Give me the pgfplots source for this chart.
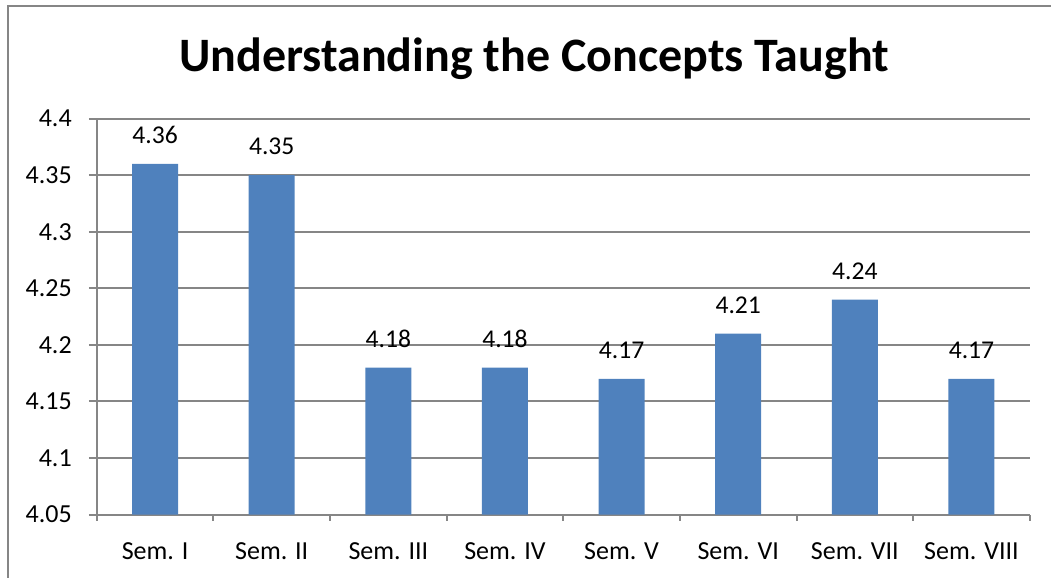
\documentclass[border=0pt]{standalone}
\usepackage{pgfplots}
\pgfplotsset{compat=1.18}
\usepackage{fontspec}
\setmainfont{Carlito}
\definecolor{barblue}{HTML}{4F81BD}
\definecolor{axgray}{HTML}{868686}
\begin{document}
\begin{tikzpicture}[x=0.5pt,y=0.5pt]
% picture is 1051 x 578 px, 1px = 0.5pt
\useasboundingbox (0,0) rectangle (1051,578);
\draw[axgray, line width=1pt] (8,0) -- (8,572) -- (1051,572);
\node[font=\fontsize{24}{29}\selectfont\bfseries] at (534,519) {Understanding the Concepts Taught};
\begin{axis}[
  at={(83,56)}, anchor=south west,
  scale only axis, width=466.5pt, height=198pt,
  xmin=-0.5, xmax=7.5, ymin=4.05, ymax=4.4,
  axis lines*=left,
  axis line style={axgray, line width=1pt},
  ytick={4.05,4.1,4.15,4.2,4.25,4.3,4.35,4.4},
  yticklabels={4.05,4.1,4.15,4.2,4.25,4.3,4.35,4.4},
  xtick={0,...,7},
  xticklabels={Sem. I,Sem. II,Sem. III,Sem. IV,Sem. V,Sem. VI,Sem. VII,Sem. VIII},
  minor xtick={-0.5,0.5,1.5,2.5,3.5,4.5,5.5,6.5,7.5},
  x tick style={draw=none},
  minor x tick style={draw=axgray, line width=1pt},
  y tick style={draw=axgray, line width=1pt},
  tick align=outside,
  major tick length=4pt, minor tick length=3pt,
  ymajorgrids, grid style={axgray, line width=1pt},
  tick label style={font=\fontsize{13}{15}\selectfont},
  xticklabel style={yshift=-6.5pt},
  yticklabel style={xshift=-5pt},
  /pgf/number format/assume math mode=true,
  ybar, bar width=23pt,
  nodes near coords={\pgfmathprintnumber[fixed,precision=2]{\pgfplotspointmeta}},
  nodes near coords style={font=\fontsize{12.8}{15}\selectfont, yshift=6.5pt},
  clip=false,
]
\addplot[fill=barblue, draw=none] coordinates {
  (0,4.36) (1,4.35) (2,4.18) (3,4.18) (4,4.17) (5,4.21) (6,4.24) (7,4.17)};
\end{axis}
\end{tikzpicture}
\end{document}
